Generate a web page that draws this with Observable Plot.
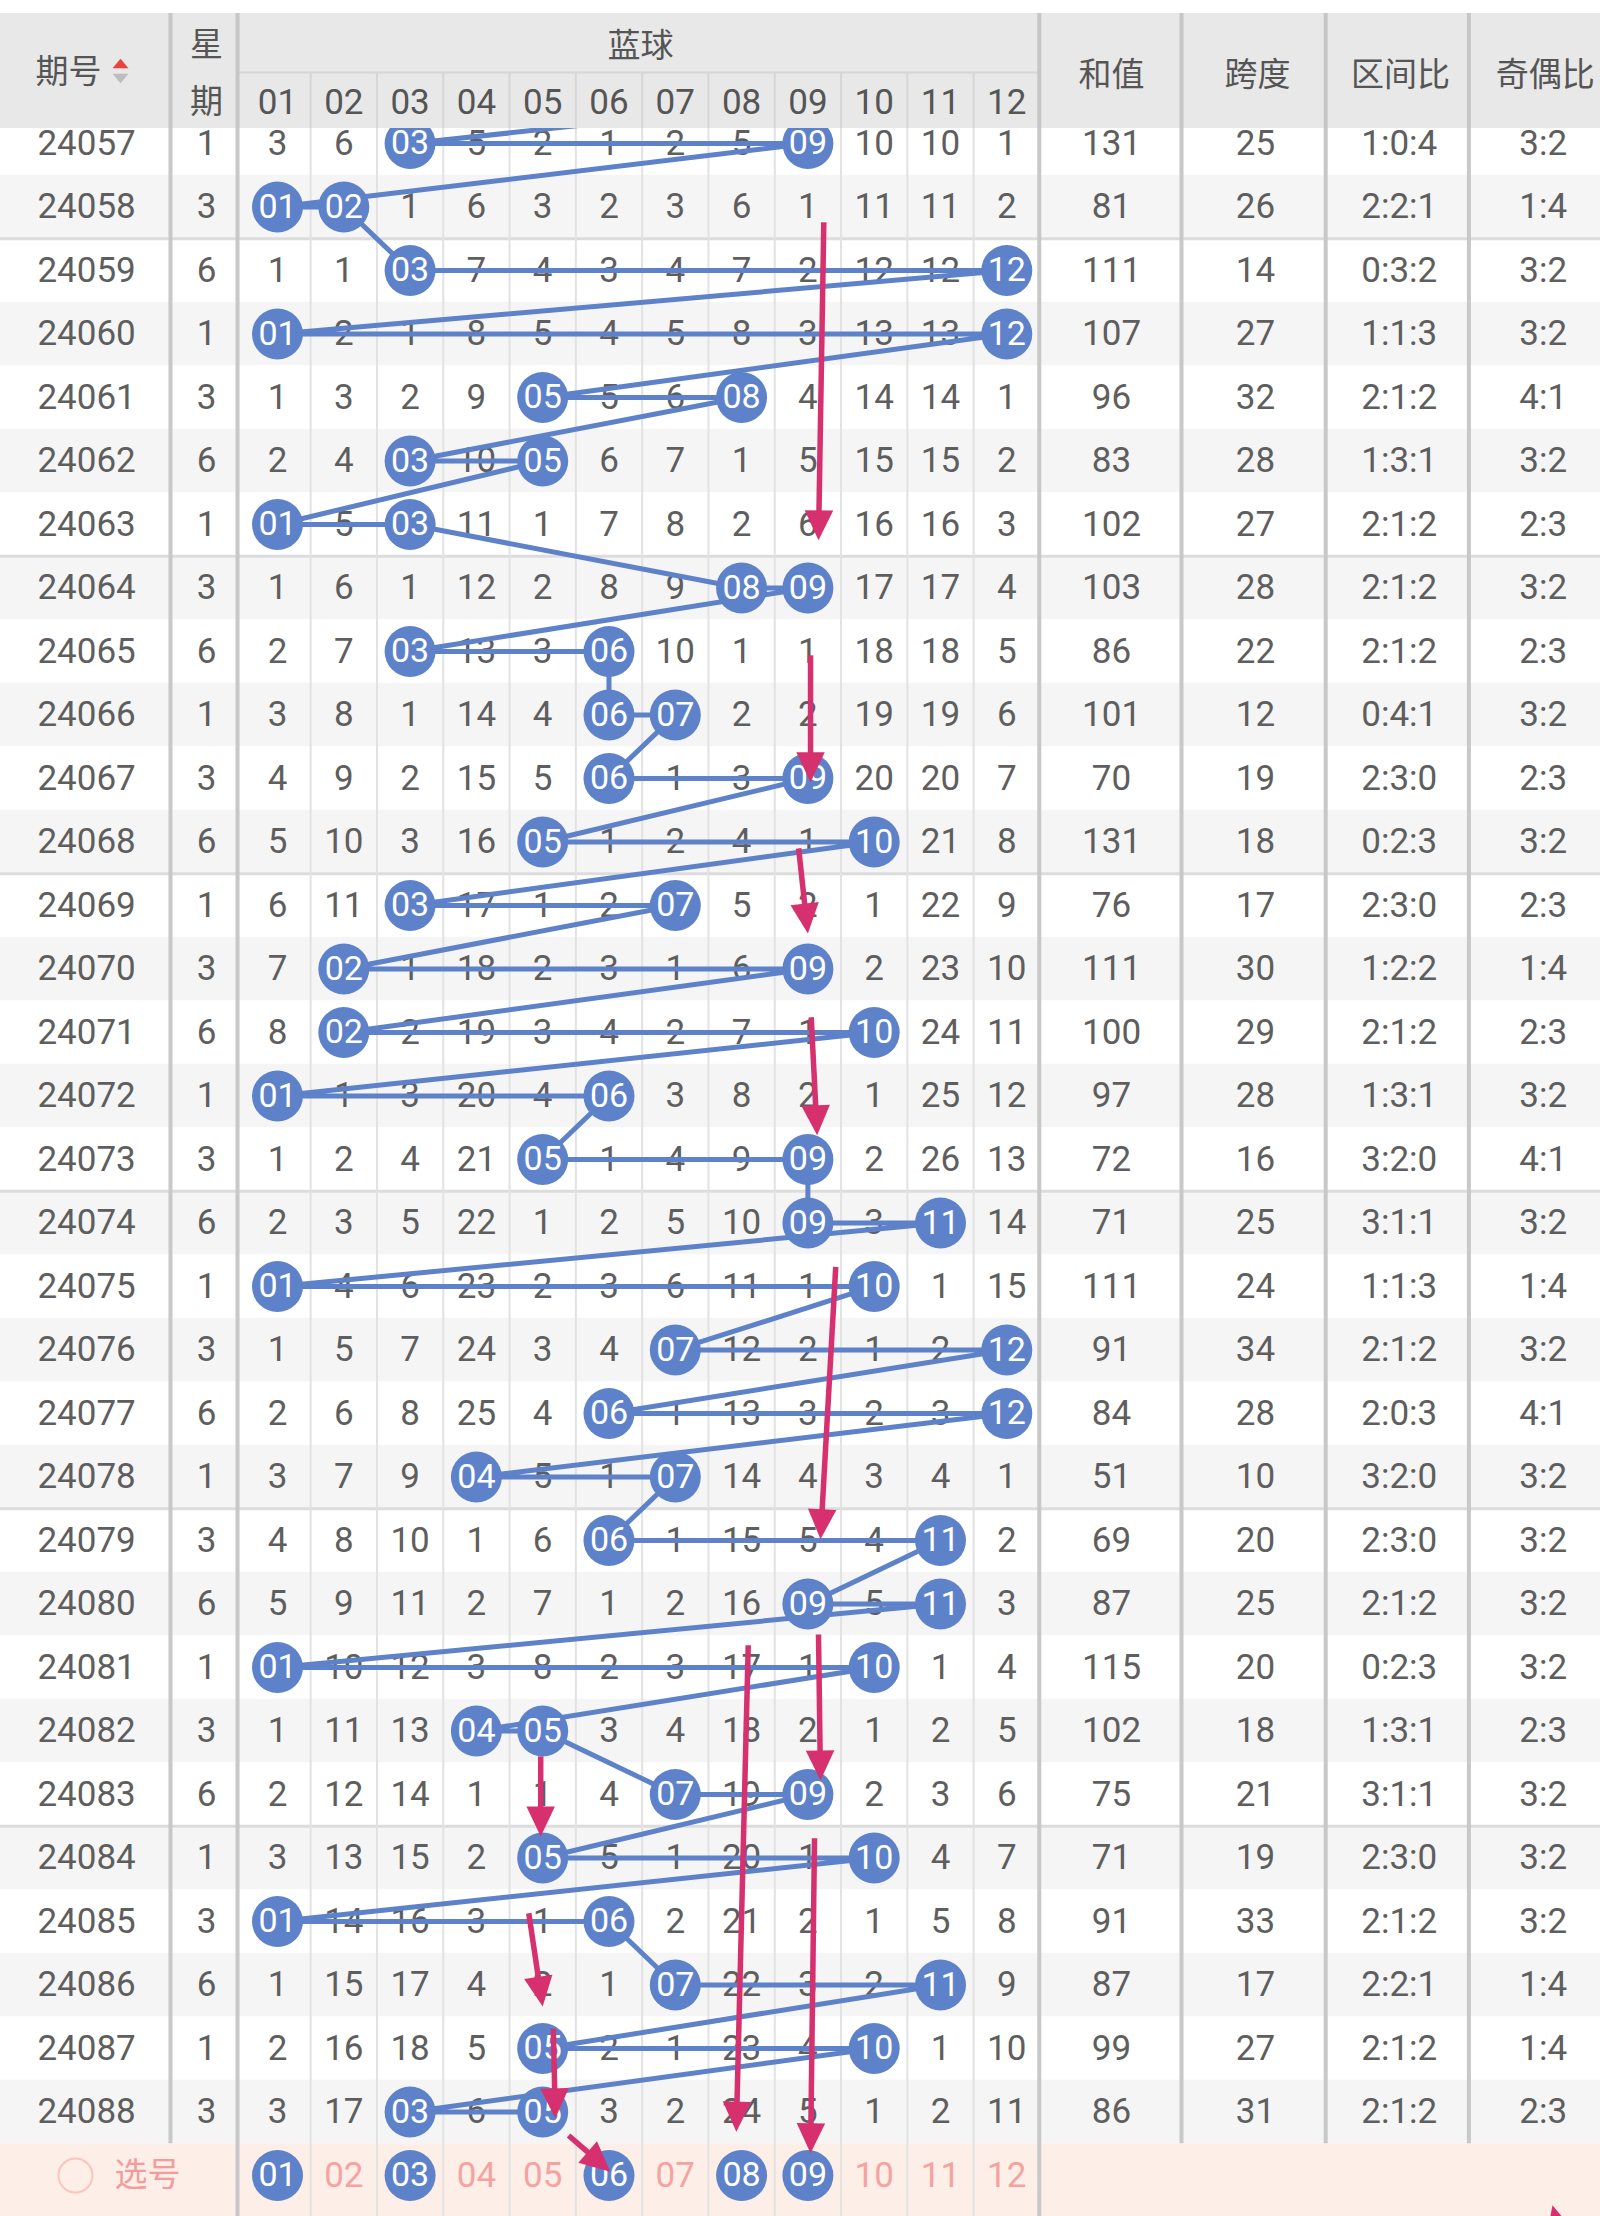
<!DOCTYPE html>
<html><head><meta charset="utf-8">
<script src="https://cdn.jsdelivr.net/npm/d3@7"></script>
<script src="https://cdn.jsdelivr.net/npm/@observablehq/plot@0.6"></script>
<style>
html,body{margin:0;padding:0;background:#fff;width:1600px;height:2216px;overflow:hidden;}
#chart svg{display:block;overflow:hidden;}
</style></head><body><div id="chart"></div>
<script>
// ---------------- data ----------------
const issues = [24057,24058,24059,24060,24061,24062,24063,24064,24065,24066,24067,24068,24069,24070,24071,24072,
                24073,24074,24075,24076,24077,24078,24079,24080,24081,24082,24083,24084,24085,24086,24087,24088];
const weekdays = [1,3,6,1,3,6,1,3,6,1,3,6,1,3,6,1,3,6,1,3,6,1,3,6,1,3,6,1,3,6,1,3];
// omission counts per blue-ball column 01..12; 0 = drawn ball
const omission = [
  [3,6,0,5,2,1,2,5,0,10,10,1],
  [0,0,1,6,3,2,3,6,1,11,11,2],
  [1,1,0,7,4,3,4,7,2,12,12,0],
  [0,2,1,8,5,4,5,8,3,13,13,0],
  [1,3,2,9,0,5,6,0,4,14,14,1],
  [2,4,0,10,0,6,7,1,5,15,15,2],
  [0,5,0,11,1,7,8,2,6,16,16,3],
  [1,6,1,12,2,8,9,0,0,17,17,4],
  [2,7,0,13,3,0,10,1,1,18,18,5],
  [3,8,1,14,4,0,0,2,2,19,19,6],
  [4,9,2,15,5,0,1,3,0,20,20,7],
  [5,10,3,16,0,1,2,4,1,0,21,8],
  [6,11,0,17,1,2,0,5,2,1,22,9],
  [7,0,1,18,2,3,1,6,0,2,23,10],
  [8,0,2,19,3,4,2,7,1,0,24,11],
  [0,1,3,20,4,0,3,8,2,1,25,12],
  [1,2,4,21,0,1,4,9,0,2,26,13],
  [2,3,5,22,1,2,5,10,0,3,0,14],
  [0,4,6,23,2,3,6,11,1,0,1,15],
  [1,5,7,24,3,4,0,12,2,1,2,0],
  [2,6,8,25,4,0,1,13,3,2,3,0],
  [3,7,9,0,5,1,0,14,4,3,4,1],
  [4,8,10,1,6,0,1,15,5,4,0,2],
  [5,9,11,2,7,1,2,16,0,5,0,3],
  [0,10,12,3,8,2,3,17,1,0,1,4],
  [1,11,13,0,0,3,4,18,2,1,2,5],
  [2,12,14,1,1,4,0,19,0,2,3,6],
  [3,13,15,2,0,5,1,20,1,0,4,7],
  [0,14,16,3,1,0,2,21,2,1,5,8],
  [1,15,17,4,2,1,0,22,3,2,0,9],
  [2,16,18,5,0,2,1,23,4,0,1,10],
  [3,17,0,6,0,3,2,24,5,1,2,11]
];
const sums = [131,81,111,107,96,83,102,103,86,101,70,131,76,111,100,97,72,71,111,91,84,51,69,87,115,102,75,71,91,87,99,86];
const spans = [25,26,14,27,32,28,27,28,22,12,19,18,17,30,29,28,16,25,24,34,28,10,20,25,20,18,21,19,33,17,27,31];
const zoneRatios = ["1:0:4","2:2:1","0:3:2","1:1:3","2:1:2","1:3:1","2:1:2","2:1:2","2:1:2","0:4:1","2:3:0","0:2:3",
  "2:3:0","1:2:2","2:1:2","1:3:1","3:2:0","3:1:1","1:1:3","2:1:2","2:0:3","3:2:0","2:3:0","2:1:2","0:2:3","1:3:1",
  "3:1:1","2:3:0","2:1:2","2:2:1","2:1:2","2:1:2"];
const parityRatios = ["3:2","1:4","3:2","3:2","4:1","3:2","2:3","3:2","2:3","3:2","2:3","3:2","2:3","1:4","2:3","3:2",
  "4:1","3:2","1:4","3:2","4:1","3:2","3:2","3:2","3:2","2:3","3:2","3:2","3:2","1:4","1:4","2:3"];
const prevLastBall = 12;          // last ball of the hidden row above (estimated)
const picks = [1,3,6,8,9];        // 选号 row
const ballLabels = ["01","02","03","04","05","06","07","08","09","10","11","12"];
// hand-drawn arrows: [col1,row1,col2,row2] (col = ball column units, row = row index)
const arrows = [
  [9.24,1.24, 9.16,6.25],
  [9.04,8.06, 9.04,10.06],
  [8.86,11.1, 9.0,12.44],
  [9.05,13.76, 9.14,15.62],
  [9.42,17.69, 9.19,21.98],
  [8.10,23.65, 7.92,31.31],
  [9.16,23.48, 9.19,25.78],
  [4.97,25.4, 4.97,26.66],
  [4.79,27.87, 5.0,29.34],
  [5.16,29.69, 5.19,31.1],
  [9.10,26.69, 9.04,31.65],
  [5.39,31.37, 6.02,31.94],
  [20.58,33.86, 20.23,32.47]
];

// ---------------- layout ----------------
const W = 1600, H = 2216;
const X0 = -3.178, X1 = 20.955;      // ball column k sits at x = k
const Y0 = -2.252, Y1 = 32.646;      // row index i
const KX = W / (X1 - X0), KY = H / (Y1 - Y0);
const col = {issue: -1.88, week: -0.07, sum: 13.58, span: 15.75, zone: 17.92, parity: 20.09};
const thickMain = [-0.614, 14.635, 16.81, 18.97];
const thickThrough = [0.397, 12.49];
const hdrTop = -2.047, hdrMid = -1.118, hdrBot = -0.236, tableBot = 31.5, pickRow = 32;

const BLUE = "#5d82c9", RED = "#d7306f", TXT = "#5e5e5e", HTXT = "#555";
const NUM = "Roboto, 'Open Sans', sans-serif";
const CJK = "'Noto Sans CJK SC', 'Noto Sans', sans-serif";

// ---------------- derived tables ----------------
const rowIdx = issues.map((d, i) => i);
const cells = [], balls = [];
omission.forEach((r, i) => r.forEach((v, k) => {
  if (v === 0) balls.push({x: k + 1, y: i, label: ballLabels[k]});
  else cells.push({x: k + 1, y: i, label: String(v)});
}));
const seq = [{x: prevLastBall, y: -1}, ...balls.slice().sort((a, b) => a.y - b.y || a.x - b.x)];
const rightCells = [];
rowIdx.forEach(i => {
  rightCells.push({x: col.issue, y: i, label: String(issues[i])});
  rightCells.push({x: col.week, y: i, label: String(weekdays[i])});
  rightCells.push({x: col.sum, y: i, label: String(sums[i])});
  rightCells.push({x: col.span, y: i, label: String(spans[i])});
  rightCells.push({x: col.zone, y: i, label: zoneRatios[i]});
  rightCells.push({x: col.parity, y: i, label: parityRatios[i]});
});
const pickBalls = picks.map(k => ({x: k, y: pickRow, label: ballLabels[k - 1]}));
const pickOthers = ballLabels.map((l, k) => ({x: k + 1, y: pickRow, label: l})).filter(d => !picks.includes(d.x));

const HEAD = 30;
const arrowData = arrows.map(([x1, y1, x2, y2]) => {
  const dx = (x2 - x1) * KX, dy = (y2 - y1) * KY, L = Math.hypot(dx, dy);
  const f = (HEAD - 4) / L;
  return {x1, y1, x2, y2, bx: x2 - f * dx / KX, by: y2 - f * dy / KY,
          rot: Math.atan2(-dx, dy) * 180 / Math.PI};
});
const arrowHead = {draw(ctx, size) {
  const r = Math.sqrt(size / Math.PI);
  ctx.moveTo(0, 0); ctx.lineTo(-r * 0.95, -r * 2); ctx.lineTo(r * 0.95, -r * 2); ctx.closePath();
}};
const sortTri = {draw(ctx, size) {
  const r = Math.sqrt(size / Math.PI);
  ctx.moveTo(0, -r * 0.6); ctx.lineTo(r, r * 0.6); ctx.lineTo(-r, r * 0.6); ctx.closePath();
}};

const headerTexts = [
  {x: -2.152, y: hdrMid, label: "期号"},
  {x: col.week, y: -1.543, label: "星"},
  {x: col.week, y: -0.646, label: "期"},
  {x: 6.475, y: -1.528, label: "蓝球"},
  {x: col.sum, y: -1.071, label: "和值"},
  {x: 15.78, y: -1.071, label: "跨度"},
  {x: 17.94, y: -1.071, label: "区间比"},
  {x: 20.12, y: -1.071, label: "奇偶比"}
];
const headerNums = ballLabels.map((l, k) => ({x: k + 1, y: -0.646, label: l}));

const chart = Plot.plot({
  width: W, height: H, margin: 0,
  x: {type: "linear", domain: [X0, X1], range: [0, W], axis: null},
  y: {type: "linear", domain: [Y0, Y1], range: [0, H], axis: null},
  style: {background: "#fff", overflow: "hidden"},
  marks: [
    // row backgrounds
    Plot.rect(rowIdx.filter(i => i % 2 === 1), {x1: X0, x2: X1, y1: i => i - 0.5, y2: i => i + 0.5, fill: "#f5f5f5"}),
    Plot.rect([pickRow], {x1: X0, x2: X1, y1: tableBot, y2: Y1, fill: "#fdeee8"}),
    Plot.ruleY([1.5, 6.5, 11.5, 16.5, 21.5, 26.5], {stroke: "#dcdcdc", strokeWidth: 3}),
    // grid
    Plot.ruleX(d3.range(1.5, 12, 1), {y1: hdrBot, y2: Y1, stroke: "#e2e2e2", strokeWidth: 2}),
    Plot.ruleX(thickMain, {y1: hdrBot, y2: tableBot, stroke: "#c8c8c8", strokeWidth: 4}),
    Plot.ruleX(thickThrough, {y1: hdrBot, y2: Y1, stroke: "#c8c8c8", strokeWidth: 4}),
    // texts
    Plot.text(cells, {x: "x", y: "y", text: "label", fill: TXT, fontSize: 35, fontFamily: NUM}),
    Plot.text(rightCells, {x: "x", y: "y", text: "label", fill: TXT, fontSize: 35, fontFamily: NUM}),
    // 选号 row
    Plot.dot([pickRow], {x: -2.047, y: pickRow, r: 17, stroke: "#f8c6bb", strokeWidth: 2, fill: "none"}),
    Plot.text([pickRow], {x: -0.961, y: pickRow, text: () => "选号", fill: "#f29c9c", fontSize: 33, fontFamily: CJK}),
    Plot.text(pickOthers, {x: "x", y: "y", text: "label", fill: "#f5a3a0", fontSize: 35, fontFamily: NUM}),
    // trend line and balls
    Plot.line(seq, {x: "x", y: "y", stroke: BLUE, strokeWidth: 5, curve: "linear"}),
    Plot.dot(balls.concat(pickBalls), {x: "x", y: "y", r: 25.5, fill: BLUE}),
    Plot.text(balls.concat(pickBalls), {x: "x", y: "y", text: "label", fill: "#fff", fontSize: 34, fontFamily: NUM}),
    // hand-drawn arrows
    Plot.link(arrowData, {x1: "x1", y1: "y1", x2: "bx", y2: "by", stroke: RED, strokeWidth: 5.5}),
    Plot.dot(arrowData, {x: "x2", y: "y2", symbol: arrowHead, r: 15, fill: RED, rotate: "rot"}),
    // header
    Plot.rect([0], {x1: X0, x2: X1, y1: hdrTop, y2: hdrBot, fill: "#e8e8e8"}),
    Plot.ruleY([hdrMid], {x1: thickThrough[0], x2: thickThrough[1], stroke: "#d6d6d6", strokeWidth: 2}),
    Plot.ruleX(d3.range(1.5, 12, 1), {y1: hdrMid, y2: hdrBot, stroke: "#d6d6d6", strokeWidth: 2}),
    Plot.ruleX(thickMain.concat(thickThrough), {y1: hdrTop, y2: hdrBot, stroke: "#c6c6c6", strokeWidth: 4}),
    Plot.text(headerTexts, {x: "x", y: "y", text: "label", fill: HTXT, fontSize: 33, fontFamily: CJK}),
    Plot.text(headerNums, {x: "x", y: "y", text: "label", fill: HTXT, fontSize: 35, fontFamily: NUM}),
    Plot.dot([0], {x: -1.368, y: -1.26, symbol: sortTri, r: 8, fill: "#e8433e"}),
    Plot.dot([0], {x: -1.368, y: -1.024, symbol: sortTri, r: 8, fill: "#bdbdbd", rotate: 180})
  ]
});
document.getElementById("chart").appendChild(chart);
</script></body></html>
